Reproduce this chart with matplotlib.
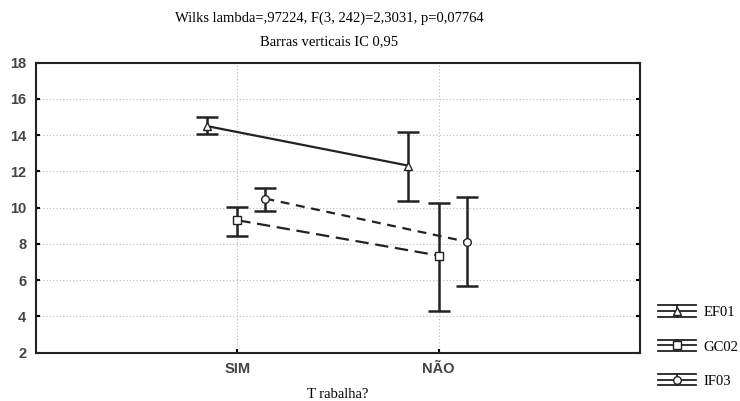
import matplotlib.pyplot as plt
from matplotlib.lines import Line2D
from matplotlib.legend_handler import HandlerBase

# ==================== ------ DATA ------- ====================
categories = ["SIM", "NÃO"]
series_names = ["EF01", "GC02", "IF03"]

ef01_mean = [14.5, 12.32]
ef01_low = [14.04, 10.39]
ef01_high = [15.02, 14.17]

gc02_mean = [9.31, 7.36]
gc02_low = [8.46, 4.32]
gc02_high = [10.02, 10.28]

if03_mean = [10.5, 8.12]
if03_low = [9.82, 5.67]
if03_high = [11.07, 10.57]

y_ticks = [2, 4, 6, 8, 10, 12, 14, 16, 18]


class ErrBarHandler(HandlerBase):
    # legend symbol: top and bottom bars, middle line with marker
    def create_artists(self, legend, orig, xd, yd, w, h, fontsize, trans):
        arts = []
        x0, x1 = -xd, -xd + w
        xm = -xd + w / 2
        for yy in (-0.05 * h, 0.5 * h, 1.05 * h):
            arts.append(Line2D([x0, x1], [yy - yd, yy - yd],
                               color="#222222", lw=1.3, transform=trans))
        arts.append(Line2D([xm, xm], [-0.05 * h - yd, 1.05 * h - yd],
                           color="#222222", lw=1.3, transform=trans))
        arts.append(Line2D([xm], [0.5 * h - yd], marker=orig.get_marker(),
                           ms=5.5, mfc="white", mec="#222222", mew=1.0,
                           linestyle="none", transform=trans))
        return arts


# ==================== ------ PLOT ------- ====================
fig = plt.figure(figsize=(7.4, 4.01), dpi=100)
ax = fig.add_axes([0.0486, 0.1204, 0.8162, 0.7233])

styles = [
    (ef01_mean, ef01_low, ef01_high, -0.15, "^", (0, ()), "EF01"),
    (gc02_mean, gc02_low, gc02_high, 0.0, "s", (0, (6, 3)), "GC02"),
    (if03_mean, if03_low, if03_high, 0.14, "o", (0, (4, 3)), "IF03"),
]

xs = list(range(len(categories)))
handles = []
for mean, low, high, off, mk, ls, name in styles:
    x = [v + off for v in xs]
    yerr = [[m - l for m, l in zip(mean, low)], [h - m for m, h in zip(mean, high)]]
    ax.errorbar(x, mean, yerr=yerr, fmt="none", ecolor="#222222",
                elinewidth=1.8, capsize=8, capthick=1.8, zorder=3)
    ax.plot(x, mean, color="#222222", lw=1.6, linestyle=ls, zorder=4)
    ax.plot(x, mean, linestyle="none", marker=mk, ms=5.5, mfc="white",
            mec="#222222", mew=1.0, zorder=5)
    handles.append(Line2D([], [], color="#222222", marker=mk, label=name))

ax.set_xlim(-1, 2)
ax.set_ylim(2, 18)
ax.set_yticks(y_ticks)
ax.set_xticks(xs)
ax.set_xticklabels(categories)
ax.grid(True, color="#bbbbbb", linestyle=(0, (1, 2)), lw=0.8)
ax.set_axisbelow(True)
for s in ax.spines.values():
    s.set_linewidth(1.5)
    s.set_color("#222222")
ax.tick_params(direction="in", length=3, width=1.5, right=True, top=False,
               labelsize=10.5, labelcolor="#444444", pad=7)
for lbl in ax.get_xticklabels() + ax.get_yticklabels():
    lbl.set_family("Liberation Sans")
    lbl.set_fontweight("bold")

ax.set_xlabel("T rabalha?", family="Liberation Serif", fontsize=10.5, labelpad=8)

fig.text(0.445, 0.955, "Wilks lambda=,97224, F(3, 242)=2,3031, p=0,07764",
         ha="center", va="center", family="Liberation Serif", fontsize=10.5)
fig.text(0.445, 0.897, "Barras verticais IC 0,95",
         ha="center", va="center", family="Liberation Serif", fontsize=10.5)

leg = fig.legend(handles=handles, loc="lower left", bbox_to_anchor=(0.872, 0.0),
                 frameon=False, labelspacing=1.45, handlelength=2.6, handletextpad=0.5,
                 handler_map={Line2D: ErrBarHandler()},
                 prop={"family": "Liberation Serif", "size": 10.5})

plt.savefig("out.png", dpi=100)
plt.close()
